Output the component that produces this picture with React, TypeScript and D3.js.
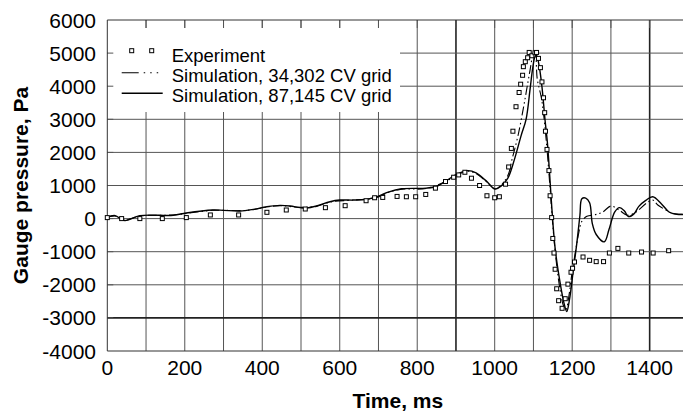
import React from "react";
import * as d3 from "d3";

const xTicks = [0, 200, 400, 600, 800, 1000, 1200, 1400];
const yTicks = [6000, 5000, 4000, 3000, 2000, 1000, 0, -1000, -2000, -3000, -4000];
const xGrid = [100, 200, 300, 400, 500, 600, 700, 800, 900, 1000, 1100, 1200, 1300, 1400];
const yGrid = [5000, 4000, 3000, 2000, 1000, 0, -1000, -2000, -3000];
const heavyX = [900, 1400];
const heavyY = [-3000];

const legendLabels = ["Experiment", "Simulation, 34,302 CV grid", "Simulation, 87,145 CV grid"];

const expT = [0, 37, 84, 142, 204, 266, 339, 412, 462, 511, 563, 614, 668, 690, 711, 748, 772, 796, 822, 847, 873, 894, 907, 923, 940, 961, 980, 1000, 1012, 1028, 1036, 1043, 1047, 1055, 1063, 1067, 1072, 1074, 1079, 1085, 1089, 1096, 1104, 1108, 1113, 1118, 1122, 1126, 1129, 1131, 1135, 1140, 1143, 1147, 1150, 1153, 1156, 1160, 1165, 1174, 1182, 1189, 1197, 1201, 1206, 1228, 1245, 1262, 1281, 1296, 1318, 1346, 1379, 1409, 1449];
const expP = [30, 0, 0, 0, 30, 110, 110, 190, 260, 290, 330, 390, 540, 630, 640, 670, 660, 660, 730, 920, 1120, 1250, 1320, 1400, 1220, 1000, 690, 630, 660, 1040, 1560, 2120, 2640, 3380, 3810, 4060, 4330, 4590, 4740, 4860, 5020, 4920, 5010, 5020, 4840, 4560, 4130, 3650, 3200, 2640, 2090, 1450, 690, 30, -600, -1040, -1530, -2120, -2480, -2710, -2420, -1980, -1620, -1500, -1310, -1160, -1260, -1300, -1300, -1040, -900, -1040, -1010, -1040, -970];

const fineT = [0, 20, 45, 84, 170, 204, 272, 300, 343, 377, 412, 446, 472, 498, 515, 540, 575, 600, 635, 669, 700, 725, 760, 823, 849, 875, 900, 931, 952, 978, 1001, 1017, 1034, 1051, 1068, 1081, 1091, 1098, 1104, 1108, 1115, 1122, 1130, 1136, 1142, 1147, 1156, 1169, 1179, 1186, 1193, 1203, 1212, 1220, 1225, 1235, 1245, 1252, 1262, 1283, 1295, 1310, 1322, 1335, 1345, 1360, 1372, 1390, 1408, 1430, 1450, 1470, 1500];
const fineP = [40, 90, -60, 90, 100, 170, 260, 250, 230, 280, 360, 400, 380, 330, 320, 380, 510, 560, 560, 580, 680, 800, 900, 920, 970, 1140, 1330, 1450, 1380, 1140, 890, 990, 1220, 1790, 2500, 3000, 3880, 4540, 4890, 4940, 4590, 3980, 2970, 2300, 1300, 400, -900, -1950, -2560, -2810, -2450, -1550, -740, 100, 600, 620, 480, -150, -480, -700, -330, 200, 330, 230, 60, 150, 370, 550, 660, 450, 200, 130, 130];

const coarseT = [0, 20, 45, 84, 170, 204, 272, 343, 377, 412, 446, 498, 540, 575, 635, 695, 725, 760, 823, 875, 900, 931, 952, 978, 1001, 1017, 1034, 1045, 1060, 1075, 1090, 1100, 1104, 1110, 1120, 1127, 1135, 1143, 1150, 1158, 1168, 1178, 1184, 1192, 1200, 1210, 1217, 1225, 1238, 1260, 1279, 1300, 1322, 1343, 1365, 1391, 1408, 1421, 1443, 1460, 1480, 1500];
const coarseP = [40, 80, -40, 80, 110, 160, 250, 240, 270, 350, 390, 340, 370, 500, 560, 630, 790, 890, 910, 1130, 1310, 1430, 1360, 1120, 900, 1020, 1300, 1800, 2500, 3400, 4400, 5000, 5050, 4200, 3680, 3070, 2100, 900, -200, -1200, -2100, -2650, -2750, -2300, -1600, -900, -430, -80, 70, 120, 200, 380, 250, 100, 200, 460, 560, 410, 250, 150, 130, 130];

const W = 683;
const H = 415;
const left = 107.3;
const top = 20;
const right = 688.4;
const bottom = 351;

export default function App() {
  const x = d3.scaleLinear().domain([0, 1500]).range([left, right]);
  const y = d3.scaleLinear().domain([-4000, 6000]).range([bottom, top]);
  const line = d3
    .line<[number, number]>()
    .x((d) => x(d[0]))
    .y((d) => y(d[1]))
    .curve(d3.curveCatmullRom.alpha(0.5));
  const fine: [number, number][] = fineT.map((t, i) => [t, fineP[i]]);
  const coarse: [number, number][] = coarseT.map((t, i) => [t, coarseP[i]]);
  const font = "'Liberation Sans', Arial, Helvetica, sans-serif";
  const gridColor = "#555";
  const legX = 108;
  const legY = 28;
  const legW = 292;
  const legH = 84;
  return (
    <svg width={W} height={H} style={{ position: "absolute", left: 0, top: 0, background: "#fff" }} fontFamily={font}>
      <rect x={0} y={0} width={W} height={H} fill="#fff" />
      {xGrid.map((t) => (
        <line key={"gx" + t} x1={x(t)} x2={x(t)} y1={top} y2={bottom}
          stroke={heavyX.includes(t) ? "#222" : gridColor} strokeWidth={heavyX.includes(t) ? 1.6 : 1} />
      ))}
      {yGrid.map((v) => (
        <line key={"gy" + v} x1={left} x2={W} y1={y(v)} y2={y(v)}
          stroke={heavyY.includes(v) ? "#222" : gridColor} strokeWidth={heavyY.includes(v) ? 1.6 : 1} />
      ))}
      <rect x={legX} y={legY} width={legW} height={legH} fill="#fff" />
      {xGrid.map((t) => (
        <line key={"tx" + t} x1={x(t)} x2={x(t)} y1={top} y2={top + 8} stroke={gridColor} strokeWidth={1} />
      ))}
      {yGrid.map((v) => (
        <line key={"ty" + v} x1={left} x2={left + 6} y1={y(v)} y2={y(v)} stroke={gridColor} strokeWidth={1} />
      ))}
      <line x1={left} x2={W} y1={top} y2={top} stroke="#333" strokeWidth={1} />
      <line x1={left} x2={W} y1={bottom} y2={bottom} stroke="#333" strokeWidth={1.2} />
      <line x1={left} x2={left} y1={top} y2={bottom} stroke="#333" strokeWidth={1} />

      <path d={line(coarse) || ""} fill="none" stroke="#000" strokeWidth={1.1}
        strokeDasharray="9,3,1.5,3,1.5,3" />
      <path d={line(fine) || ""} fill="none" stroke="#000" strokeWidth={1.4} />
      {expT.map((t, i) => (
        <rect key={"e" + i} x={x(t) - 2} y={y(expP[i]) - 2} width={4} height={4}
          fill="#fff" stroke="#000" strokeWidth={1} />
      ))}

      {/* legend */}
      <rect x={129.7} y={48.7} width={4} height={4} fill="#fff" stroke="#000" strokeWidth={1} />
      <rect x={149.7} y={48.7} width={4} height={4} fill="#fff" stroke="#000" strokeWidth={1} />
      <line x1={121.7} x2={162.7} y1={72.7} y2={72.7} stroke="#000" strokeWidth={1.1} strokeDasharray="17,5,1.5,5,1.5,5,1.5,5" />
      <line x1={121.7} x2={162.7} y1={93.3} y2={93.3} stroke="#000" strokeWidth={1.4} />
      {legendLabels.map((s, i) => (
        <text key={"l" + i} x={171.7} y={61.7 + i * 20} fontSize={18.5} fill="#000">{s}</text>
      ))}

      {yTicks.map((v) => (
        <text key={"yl" + v} x={96} y={y(v)} dy="0.36em" textAnchor="end" fontSize={21} fill="#000">{v}</text>
      ))}
      {xTicks.map((t) => (
        <text key={"xl" + t} x={x(t)} y={374.5} textAnchor="middle" fontSize={21} fill="#000">{t}</text>
      ))}
      <text x={(left + right) / 2} y={408} textAnchor="middle" fontSize={21} fontWeight="bold" fill="#000">Time, ms</text>
      <text transform={`translate(28, ${(top + bottom) / 2}) rotate(-90)`} textAnchor="middle" fontSize={21} fontWeight="bold" fill="#000">Gauge pressure, Pa</text>
    </svg>
  );
}
